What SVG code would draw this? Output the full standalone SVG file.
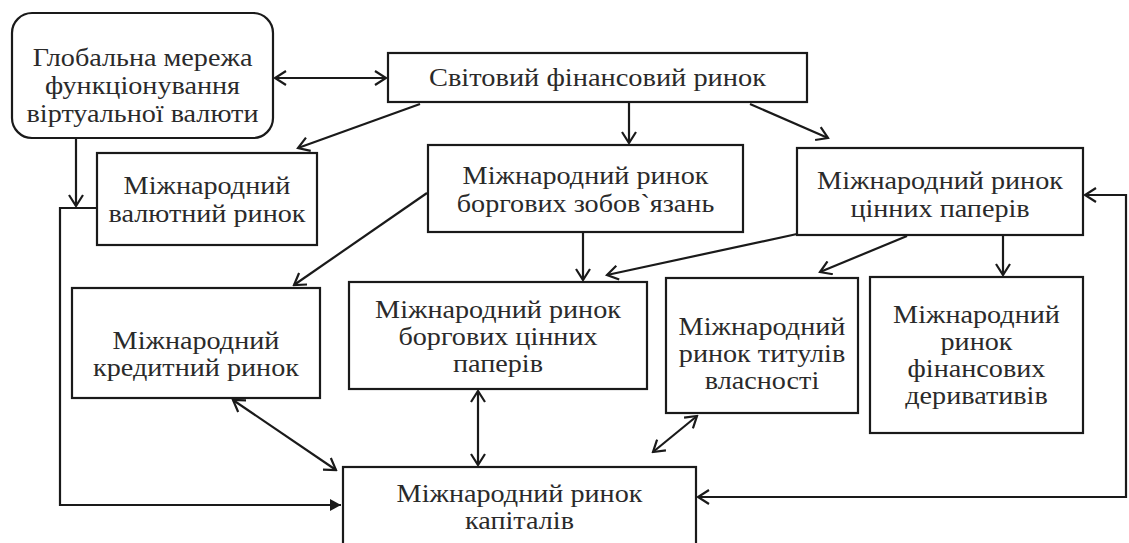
<svg xmlns="http://www.w3.org/2000/svg" width="1129" height="543" viewBox="0 0 1129 543">
<style>
.box{fill:#fff;stroke:#1a1a1a;stroke-width:2.2}
.t{font-size:24.5px;fill:#2a2a2a;text-anchor:middle}
.c{fill:none;stroke:#1a1a1a;stroke-width:2.2}
</style>
<defs>
<marker id="open" viewBox="-12 -8 14 16" markerWidth="14" markerHeight="16" refX="0" refY="0" orient="auto-start-reverse" markerUnits="userSpaceOnUse">
<path d="M-11,-7 L0,0 L-11,7" fill="none" stroke="#1a1a1a" stroke-width="2.2"/>
</marker>
<marker id="solid" viewBox="-12 -7 13 14" markerWidth="13" markerHeight="14" refX="0" refY="0" orient="auto" markerUnits="userSpaceOnUse">
<path d="M-11,-6 L0,0 L-11,6 Z" fill="#1a1a1a"/>
</marker>
</defs>
<rect width="1129" height="543" fill="#fff"/>
<g id="connectors">
<line class="c" x1="275" y1="78" x2="386" y2="78" marker-start="url(#open)" marker-end="url(#open)"/>
<line class="c" x1="629" y1="102" x2="629" y2="143" marker-end="url(#open)"/>
<line class="c" x1="420" y1="104" x2="298" y2="148" marker-end="url(#open)"/>
<line class="c" x1="750" y1="104" x2="828" y2="138" marker-end="url(#open)"/>
<line class="c" x1="76" y1="138" x2="76" y2="206" marker-end="url(#open)"/>
<polyline class="c" points="97,208 60,208 60,505 341,505" marker-end="url(#solid)"/>
<line class="c" x1="427" y1="193" x2="294" y2="285" marker-end="url(#open)"/>
<line class="c" x1="583" y1="232" x2="583" y2="280" marker-end="url(#open)"/>
<line class="c" x1="797" y1="234" x2="607" y2="275" marker-end="url(#open)"/>
<line class="c" x1="907" y1="236" x2="820" y2="272" marker-end="url(#open)"/>
<line class="c" x1="1003" y1="235" x2="1003" y2="275" marker-end="url(#open)"/>
<line class="c" x1="233" y1="400" x2="336" y2="470" marker-start="url(#open)" marker-end="url(#open)"/>
<line class="c" x1="478" y1="391" x2="478" y2="465" marker-start="url(#open)" marker-end="url(#open)"/>
<line class="c" x1="697" y1="416" x2="653" y2="452" marker-start="url(#open)" marker-end="url(#open)"/>
<polyline class="c" points="1085,195 1126,195 1126,497 698,497" marker-start="url(#open)" marker-end="url(#open)"/>
</g>
<g id="n-global" font-family="Liberation Serif, serif">
<rect class="box" x="12" y="13" width="261" height="125" rx="20"/>
<text class="t" transform="matrix(1.15 0 0 1 142.5 66)">Глобальна мережа</text>
<text class="t" transform="matrix(1.15 0 0 1 142.5 94)">функціонування</text>
<text class="t" transform="matrix(1.15 0 0 1 142.5 122)">віртуальної валюти</text>
</g>
<g id="n-world" font-family="Liberation Serif, serif">
<rect class="box" x="388" y="53" width="419" height="49"/>
<text class="t" transform="matrix(1.16 0 0 1 597.5 86)">Світовий фінансовий ринок</text>
</g>
<g id="n-currency" font-family="Liberation Serif, serif">
<rect class="box" x="97" y="153" width="220" height="92"/>
<text class="t" transform="matrix(1.15 0 0 1 207 194)">Міжнародний</text>
<text class="t" transform="matrix(1.15 0 0 1 207 222)">валютний ринок</text>
</g>
<g id="n-debt" font-family="Liberation Serif, serif">
<rect class="box" x="428" y="145" width="315" height="87"/>
<text class="t" transform="matrix(1.15 0 0 1 585.5 184)">Міжнародний ринок</text>
<text class="t" transform="matrix(1.15 0 0 1 585.5 212)">боргових зобов`язань</text>
</g>
<g id="n-securities" font-family="Liberation Serif, serif">
<rect class="box" x="797" y="148" width="286" height="87"/>
<text class="t" transform="matrix(1.15 0 0 1 940 189)">Міжнародний ринок</text>
<text class="t" transform="matrix(1.15 0 0 1 940 217)">цінних паперів</text>
</g>
<g id="n-credit" font-family="Liberation Serif, serif">
<rect class="box" x="72" y="288" width="248" height="110"/>
<text class="t" transform="matrix(1.15 0 0 1 196 349)">Міжнародний</text>
<text class="t" transform="matrix(1.15 0 0 1 196 376)">кредитний ринок</text>
</g>
<g id="n-debtsec" font-family="Liberation Serif, serif">
<rect class="box" x="349" y="282" width="298" height="107"/>
<text class="t" transform="matrix(1.15 0 0 1 498 318)">Міжнародний ринок</text>
<text class="t" transform="matrix(1.15 0 0 1 498 345)">боргових цінних</text>
<text class="t" transform="matrix(1.15 0 0 1 498 372)">паперів</text>
</g>
<g id="n-equity" font-family="Liberation Serif, serif">
<rect class="box" x="666" y="278" width="192" height="135"/>
<text class="t" transform="matrix(1.15 0 0 1 762 335)">Міжнародний</text>
<text class="t" transform="matrix(1.15 0 0 1 762 362)">ринок титулів</text>
<text class="t" transform="matrix(1.15 0 0 1 762 389)">власності</text>
</g>
<g id="n-deriv" font-family="Liberation Serif, serif">
<rect class="box" x="870" y="277" width="213" height="156"/>
<text class="t" transform="matrix(1.15 0 0 1 976.5 323)">Міжнародний</text>
<text class="t" transform="matrix(1.15 0 0 1 976.5 350)">ринок</text>
<text class="t" transform="matrix(1.15 0 0 1 976.5 377)">фінансових</text>
<text class="t" transform="matrix(1.15 0 0 1 976.5 404)">деривативів</text>
</g>
<g id="n-capital" font-family="Liberation Serif, serif">
<rect class="box" x="343" y="467" width="353" height="100"/>
<text class="t" transform="matrix(1.15 0 0 1 519.5 502)">Міжнародний ринок</text>
<text class="t" transform="matrix(1.15 0 0 1 519.5 529)">капіталів</text>
</g>
</svg>
